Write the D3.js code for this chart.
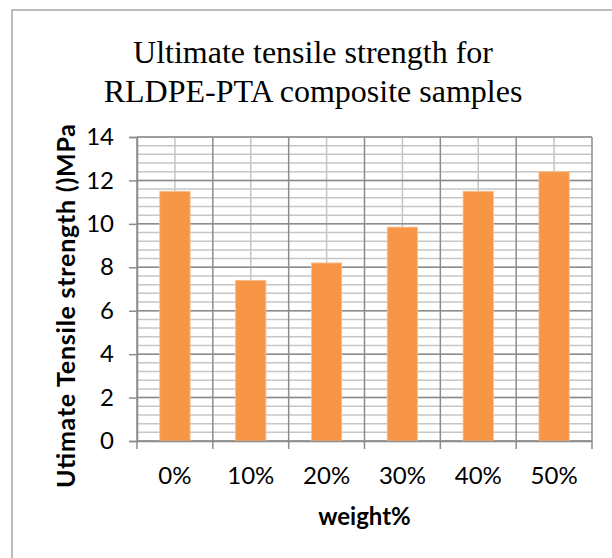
<!DOCTYPE html>
<html>
<head>
<meta charset="utf-8">
<script src="https://cdn.jsdelivr.net/npm/d3@7"></script>
<style>
  body { margin: 0; background: #fff; }
  svg { display: block; }
</style>
</head>
<body>
<svg id="chart" width="612" height="558"></svg>
<script>
// data
const categories = ['0%', '10%', '20%', '30%', '40%', '50%'];
const strengths = [11.5, 7.4, 8.2, 9.85, 11.5, 12.4];
const yTicks = [0, 2, 4, 6, 8, 10, 12, 14];
const titleLines = ['Ultimate tensile strength for', 'RLDPE-PTA composite samples'];

const svg = d3.select('#chart');
const plot = { left: 137, right: 592, top: 137, bottom: 441 };

const majorColor = '#8c8c8c';
const minorColor = '#c6c6c6';
const sans = 'Lato, "Open Sans", sans-serif';

// outer chart frame (only top/left edges are visible in the crop)
svg.append('rect')
    .attr('x', 12)
    .attr('y', 10)
    .attr('width', 640)
    .attr('height', 600)
    .attr('fill', '#fff')
    .attr('stroke', '#a6a6a6')
    .attr('stroke-width', 1.5);

const x = d3.scaleBand()
    .domain(categories)
    .range([plot.left, plot.right])
    .paddingInner(0.6)
    .paddingOuter(0.3);

const y = d3.scaleLinear()
    .domain([0, 14])
    .range([plot.bottom, plot.top]);

const step = x.step();
const bandEdge = c => x(c) - step * 0.3;
const boundaries = categories.map(bandEdge).concat([plot.right]);

// minor grid
const minorY = d3.range(0, 14.001, 0.4);
svg.append('g')
    .selectAll('line')
    .data(minorY)
    .enter()
    .append('line')
    .attr('x1', plot.left)
    .attr('x2', plot.right)
    .attr('y1', d => y(d))
    .attr('y2', d => y(d))
    .attr('stroke', minorColor)
    .attr('stroke-width', 1.5);

svg.append('g')
    .selectAll('line')
    .data(categories)
    .enter()
    .append('line')
    .attr('x1', d => x(d) + x.bandwidth() / 2)
    .attr('x2', d => x(d) + x.bandwidth() / 2)
    .attr('y1', plot.top)
    .attr('y2', plot.bottom)
    .attr('stroke', minorColor)
    .attr('stroke-width', 1.5);

// major grid
svg.append('g')
    .selectAll('line')
    .data(yTicks)
    .enter()
    .append('line')
    .attr('x1', plot.left)
    .attr('x2', plot.right)
    .attr('y1', d => y(d))
    .attr('y2', d => y(d))
    .attr('stroke', majorColor)
    .attr('stroke-width', 1.5);

svg.append('g')
    .selectAll('line')
    .data(boundaries)
    .enter()
    .append('line')
    .attr('x1', d => d)
    .attr('x2', d => d)
    .attr('y1', plot.top)
    .attr('y2', plot.bottom + 8)
    .attr('stroke', majorColor)
    .attr('stroke-width', 1.5);

// bars
svg.append('g')
    .selectAll('rect')
    .data(categories)
    .enter()
    .append('rect')
    .attr('x', d => x(d))
    .attr('y', (d, i) => y(strengths[i]))
    .attr('width', x.bandwidth())
    .attr('height', (d, i) => y(0) - y(strengths[i]))
    .attr('fill', '#f79646')
    .attr('stroke', '#fbc08f')
    .attr('stroke-width', 0.8);

// y axis
const yAxis = svg.append('g')
    .attr('transform', `translate(${plot.left},0)`)
    .call(d3.axisLeft(y).tickValues(yTicks).tickSize(8).tickPadding(15));
yAxis.select('.domain')
    .attr('stroke', majorColor)
    .attr('stroke-width', 1.5);
yAxis.selectAll('.tick line')
    .attr('stroke', majorColor)
    .attr('stroke-width', 1.5);
yAxis.selectAll('text')
    .attr('font-family', sans)
    .attr('font-size', 24)
    .attr('fill', '#000');

// x axis labels
const xAxis = svg.append('g')
    .attr('transform', `translate(0,${plot.bottom})`)
    .call(d3.axisBottom(x).tickSize(0).tickPadding(26));
xAxis.select('.domain')
    .attr('stroke', majorColor)
    .attr('stroke-width', 1.5);
xAxis.selectAll('text')
    .attr('font-family', sans)
    .attr('font-size', 24)
    .attr('fill', '#000');

// axis titles
svg.append('text')
    .attr('x', (plot.left + plot.right) / 2)
    .attr('y', 525)
    .attr('text-anchor', 'middle')
    .attr('font-family', sans)
    .attr('font-weight', 'bold')
    .attr('font-size', 24)
    .text('weight%');

svg.append('text')
    .attr('transform', 'translate(75,306) rotate(-90)')
    .attr('text-anchor', 'middle')
    .attr('font-family', sans)
    .attr('font-weight', 'bold')
    .attr('font-size', 25)
    .attr('textLength', 364)
    .attr('lengthAdjust', 'spacing')
    .text('Utimate Tensile strength ()MPa');

// title
svg.append('text')
    .attr('x', 313)
    .attr('y', 63)
    .attr('text-anchor', 'middle')
    .attr('font-family', '"Liberation Serif", "Times New Roman", serif')
    .attr('font-size', 32)
    .selectAll('tspan')
    .data(titleLines)
    .enter()
    .append('tspan')
    .attr('x', 313)
    .attr('dy', (d, i) => i === 0 ? 0 : 39)
    .text(d => d);
</script>
</body>
</html>
